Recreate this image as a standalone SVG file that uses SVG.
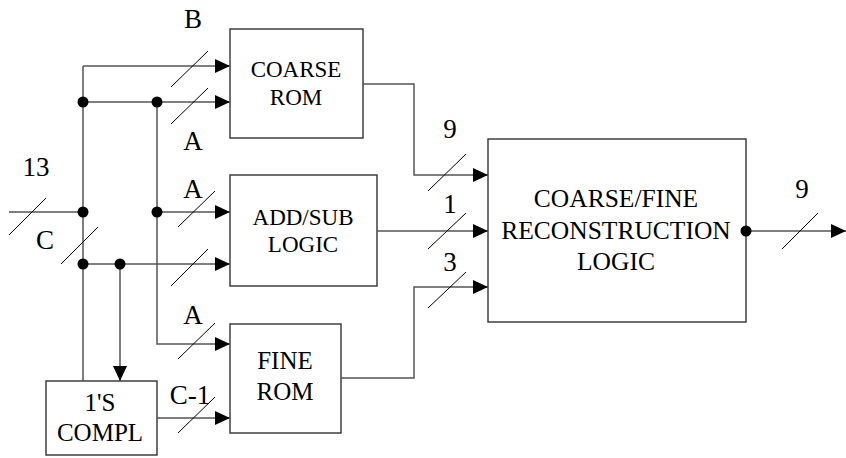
<svg xmlns="http://www.w3.org/2000/svg" width="846" height="458" viewBox="0 0 846 458">
  <style>
    .box { fill: #fff; stroke: #333; stroke-width: 1.4; }
    .wire { fill: none; stroke: #555; stroke-width: 1.5; }
    .slash { stroke: #000; stroke-width: 1; }
    .dot { fill: #000; }
    text { font-family: "Liberation Serif", "Times New Roman", serif; fill: #000; text-anchor: middle; }
    .lbl { font-size: 27px; }
  </style>
  <defs>
    <marker id="arrow" markerUnits="userSpaceOnUse" markerWidth="15" markerHeight="14" refX="15" refY="7" orient="auto">
      <path d="M0,0 L15,7 L0,14 Z" fill="#000"/>
    </marker>
  </defs>
  <rect width="846" height="458" fill="#fff"/>

  <g id="coarse-rom">
    <rect class="box" x="230" y="29" width="133" height="109"/>
    <text font-size="23" x="296" y="77">COARSE</text>
    <text font-size="23" x="296" y="105">ROM</text>
  </g>

  <g id="add-sub-logic">
    <rect class="box" x="230" y="175" width="147" height="111"/>
    <text font-size="23" x="303" y="225">ADD/SUB</text>
    <text font-size="23" x="303" y="252">LOGIC</text>
  </g>

  <g id="fine-rom">
    <rect class="box" x="230" y="324" width="111" height="109"/>
    <text font-size="25" x="285" y="369">FINE</text>
    <text font-size="25" x="285" y="400">ROM</text>
  </g>

  <g id="ones-compl">
    <rect class="box" x="46" y="381" width="111" height="74"/>
    <text font-size="25" x="100" y="411">1'S</text>
    <text font-size="25" x="100" y="441">COMPL</text>
  </g>

  <g id="reconstruction-logic">
    <rect class="box" x="488" y="139" width="258" height="183"/>
    <text font-size="25.5" x="616" y="207">COARSE/FINE</text>
    <text font-size="25.5" x="616" y="239">RECONSTRUCTION</text>
    <text font-size="25.5" x="616" y="270">LOGIC</text>
  </g>

  <!-- wiring -->
  <g id="connectors">
    <path class="wire" d="M9,212 H83"/>
    <path class="wire" d="M83,66 V381"/>
    <path class="wire" d="M83,66 H230" marker-end="url(#arrow)"/>
    <path class="wire" d="M83,102 H230" marker-end="url(#arrow)"/>
    <path class="wire" d="M157,102 V344 H230" marker-end="url(#arrow)"/>
    <path class="wire" d="M157,212 H230" marker-end="url(#arrow)"/>
    <path class="wire" d="M83,264 H230" marker-end="url(#arrow)"/>
    <path class="wire" d="M120,264 V381" marker-end="url(#arrow)"/>
    <path class="wire" d="M157,418 H230" marker-end="url(#arrow)"/>
    <path class="wire" d="M363,84 H414 V175 H488" marker-end="url(#arrow)"/>
    <path class="wire" d="M377,231 H488" marker-end="url(#arrow)"/>
    <path class="wire" d="M341,378 H414 V287 H488" marker-end="url(#arrow)"/>
    <path class="wire" d="M746,231 H846" marker-end="url(#arrow)"/>

    <!-- bus width slashes -->
    <line class="slash" x1="9" y1="235" x2="46" y2="198"/>
    <line class="slash" x1="171" y1="87" x2="208" y2="51"/>
    <line class="slash" x1="171" y1="124" x2="208" y2="88"/>
    <line class="slash" x1="178" y1="227" x2="215" y2="191"/>
    <line class="slash" x1="61" y1="264" x2="98" y2="227"/>
    <line class="slash" x1="171" y1="286" x2="208" y2="249"/>
    <line class="slash" x1="178" y1="359" x2="215" y2="323"/>
    <line class="slash" x1="178" y1="433" x2="215" y2="397"/>
    <line class="slash" x1="428" y1="191" x2="466" y2="154"/>
    <line class="slash" x1="428" y1="249" x2="466" y2="213"/>
    <line class="slash" x1="428" y1="308" x2="466" y2="272"/>
    <line class="slash" x1="782" y1="249" x2="818" y2="213"/>

    <!-- junctions -->
    <circle class="dot" cx="83" cy="102" r="5.5"/>
    <circle class="dot" cx="157" cy="102" r="5.5"/>
    <circle class="dot" cx="83" cy="212" r="5.5"/>
    <circle class="dot" cx="157" cy="212" r="5.5"/>
    <circle class="dot" cx="83" cy="264" r="5.5"/>
    <circle class="dot" cx="120" cy="264" r="5.5"/>
    <circle class="dot" cx="746" cy="231" r="5.5"/>

    <!-- bus labels -->
    <text class="lbl" x="193" y="28">B</text>
    <text class="lbl" x="193" y="150">A</text>
    <text class="lbl" x="36" y="176">13</text>
    <text class="lbl" x="193" y="198">A</text>
    <text class="lbl" x="45" y="249">C</text>
    <text class="lbl" x="193" y="324">A</text>
    <text class="lbl" x="190" y="404">C-1</text>
    <text class="lbl" x="450" y="138">9</text>
    <text class="lbl" x="450" y="213">1</text>
    <text class="lbl" x="450" y="271">3</text>
    <text class="lbl" x="802" y="198">9</text>
  </g>
</svg>
